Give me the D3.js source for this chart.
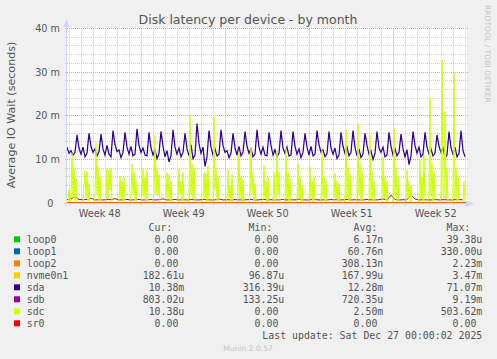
<!DOCTYPE html>
<html>
<head>
<meta charset="utf-8">
<script src="https://cdn.jsdelivr.net/npm/d3@7"></script>
<style>
body{margin:0;background:#f0f0f0;}
svg{display:block;}
</style>
</head>
<body>
<div id="chart"></div>
<script>
// month graph = last 800h, one pixel per 2h
let tStart = Date.UTC(2025, 10, 24, 18, 36);
let tEnd = tStart + 800 * 3600e3;

let names = ["loop0", "loop1", "loop2", "nvme0n1", "sda", "sdb", "sdc", "sr0"];
let colors = ["#00CC00", "#0066B3", "#FF8000", "#FFCC00", "#330099", "#990099", "#CCFF00", "#FF0000"];
let curVals = ["0.00", "0.00", "0.00", "182.61u", "10.38m", "803.02u", "10.38u", "0.00"];
let minVals = ["0.00", "0.00", "0.00", "96.87u", "316.39u", "133.25u", "0.00", "0.00"];
let avgVals = ["6.17n", "60.76n", "308.13n", "167.99u", "12.28m", "720.35u", "2.50m", "0.00"];
let maxVals = ["39.38u", "330.00u", "2.23m", "3.47m", "71.07m", "9.19m", "503.62m", "0.00"];

let yTicks = [0, 10, 20, 30, 40]; // in milliseconds
let yLabels = ["0", "10 m", "20 m", "30 m", "40 m"];

// values in ms
let zeroSeries = [0, 0];

// nvme0n1, one value per day
let nvme = [0.18,0.17,0.17,0.18,0.17,0.16,0.17,0.18,0.17,0.17,0.16,0.17,0.18,0.17,0.17,0.16,0.17,
    0.17,0.18,0.17,0.16,0.17,0.17,0.18,0.17,0.17,0.16,0.17,0.18,0.17,0.17,0.16,0.17,0.18];

// sda, one value per 4h
let sda = [
    12.8,11.4,12.0,11.0,11.6,15.6, 12.6,11.2,12.8,10.6,11.4,16.0, 13.0,11.6,12.4,10.8,11.8,15.8,
    12.4,11.0,13.2,11.2,10.6,16.6, 13.4,11.8,12.2,10.4,11.6,16.2, 12.8,11.2,13.0,10.8,11.2,17.0,
    13.2,11.6,12.6,11.0,10.8,16.2, 12.6,11.0,12.2,10.2,11.4,16.4, 13.0,10.6,12.0,9.4,10.8,16.8,
    12.8,11.2,12.6,10.6,11.6,16.0, 12.4,10.8,13.4,10.2,11.0,18.2, 13.6,11.4,12.8,8.4,10.6,16.6,
    12.8,11.0,12.4,10.8,11.2,16.8, 13.2,11.6,12.0,10.4,11.4,16.0, 12.6,11.0,13.0,10.8,11.6,16.4,
    13.0,11.4,12.4,10.6,11.2,16.8, 12.8,11.2,12.8,11.0,10.8,16.2, 13.2,11.0,12.2,10.6,11.4,16.6,
    12.6,11.4,12.8,10.8,11.0,16.4, 13.0,11.2,12.4,10.4,11.6,16.0, 12.8,11.0,13.0,10.8,11.2,16.6,
    13.4,11.6,12.2,10.6,11.4,16.4, 12.6,11.2,12.6,10.2,11.0,16.2, 13.0,11.4,12.8,10.8,11.6,16.6,
    12.8,10.8,12.4,10.4,11.2,16.0, 13.2,11.2,12.0,10.0,11.4,16.4, 12.6,11.6,12.8,10.6,11.0,16.2,
    13.0,11.0,12.4,10.8,11.6,15.8, 12.4,10.6,12.2,8.8,10.8,16.4, 13.2,11.4,12.8,10.6,11.2,16.2,
    12.8,11.2,12.4,10.8,11.4,15.6, 13.0,11.6,12.6,10.4,11.0,16.4, 12.6,11.2,12.8,10.6,11.4,16.6,
    12.0,10.6
];

// sdb, one value per 8h
let sdb = [
    0.8,0.9,1.5,0.8,0.75,0.8,1.1,0.7,0.75,0.7,0.8,0.75,1.0,0.7,0.72,0.8,0.7,0.75,0.8,0.7,
    0.72,0.78,0.7,0.75,0.95,0.7,0.72,0.8,0.7,0.75,0.7,0.78,0.72,0.7,0.8,0.75,0.7,0.72,0.9,0.7,
    0.75,0.7,0.78,0.72,0.7,0.75,0.8,0.7,0.72,0.85,0.7,0.75,0.7,0.72,0.8,0.7,0.75,0.7,0.9,0.72,
    0.7,0.75,0.8,0.7,0.72,0.7,0.78,0.75,0.7,0.72,0.8,0.7,0.75,0.72,0.7,0.8,0.72,0.7,0.75,0.9,
    0.72,1.8,0.8,0.7,0.75,0.72,1.9,0.9,0.7,0.75,0.72,0.7,0.8,0.7,0.75,0.72,0.7,0.75,0.8,0.72
];

// sdc, one value per 2h (12 per row = one day)
let sdc = [
    0.3,0,3.0,0.2,2.0,11.4,1.2,8.0,0.5,5.5,0,0,
    0,0.2,0,0,0,4.0,7.5,1.0,7.2,0.4,4.5,0,
    0,0,0,0.3,1.5,13.7,2.0,8.2,0.6,6.0,0,0,
    0,0,0.2,0,7.8,1.0,7.5,3.0,8.0,0.4,0,0,
    0,0,0,0,1.0,6.2,1.0,5.0,0.3,6.0,0,0,
    0,0,0.2,0,2.0,9.0,2.0,7.0,0.5,5.0,0,0,
    0,0,0,1.0,8.0,1.5,6.0,0.4,7.5,0,0,0,
    0,0,0.3,2.0,15.5,2.0,8.0,2.0,6.5,0.3,0,0,
    0,0,0,0.5,7.0,1.0,6.5,0.4,5.0,0,0,0,
    0,0,0.2,0,7.8,2.0,5.0,0.3,7.0,0,0,0,
    0,0,1.5,20.1,2.0,9.0,1.0,8.0,0.3,0,0,0,
    0,0,0,0.3,1.0,7.0,1.0,6.8,0.4,8.5,0,0,
    0,0,1.0,19.7,3.0,8.0,0.5,6.0,0,0.2,0,0,
    0,0,0,0.3,1.5,7.5,1.0,4.0,0.3,6.5,0,0,
    0,0,0.2,1.0,11.7,1.0,6.0,0.4,5.5,0,0,0,
    0,0,0,1.5,12.8,2.0,7.0,0.5,4.5,0,0,0,
    0,0,0.2,0,1.0,8.6,1.0,5.0,0.3,6.0,0,0,
    0,0,0.5,7.0,0.5,1.0,12.0,2.0,7.0,0.3,0,0,
    0,0,1.0,12.5,1.0,7.0,0.4,5.5,0,0,0,0,
    0,0,0.5,9.0,1.0,6.0,0.3,4.0,0,0,0,0,
    0,0,0.5,8.2,1.0,5.0,0.3,6.0,0,0.2,0,0,
    0,0,1.0,12.0,1.5,6.0,0.4,5.0,0,0,0,0,
    0,0,0,0.5,6.8,1.0,5.0,0.3,4.5,0,0,0,
    0,0,2.0,16.7,1.0,8.0,0.5,6.5,0,0,0,0,
    0,0,1.5,18.2,2.0,9.0,0.5,7.0,0,0,0,0,
    0,0,1.0,15.5,1.0,7.0,0.4,5.0,0,0,0,0,
    0,0,0,0.5,10.5,1.0,6.0,0.3,5.0,0,0,0,
    0,0,1.0,17.1,1.5,8.0,0.5,6.0,0,0,0,0,
    0,0,0,0.5,7.5,1.0,5.0,0.3,4.0,0,0,0,
    0,0,0,0.3,1.0,9.8,1.0,6.0,0.4,11.0,0,0,
    0,0,2.0,24.0,1.5,9.0,0.5,7.0,0,0,0,0,
    0,0,3.0,32.8,3.0,1.0,20.9,1.0,8.0,0,0,0,
    0,0,2.0,30.0,1.0,8.0,0.5,6.0,0,0,0,0,
    0.3,5.0,0.5,0
];

// [values, hours between points]
let seriesData = [
    [zeroSeries, 798], [zeroSeries, 798], [zeroSeries, 798], [nvme, 24],
    [sda, 4], [sdb, 8], [sdc, 2], [zeroSeries, 798]
];
let widths = [1, 1, 1, 1, 1.25, 1, 1, 1];

let W = 497, H = 359;

let svg = d3.select("#chart").append("svg")
    .attr("width", W)
    .attr("height", H)
    .style("font-family", "'DejaVu Sans', sans-serif");

svg.append("rect").attr("width", W).attr("height", H).attr("fill", "#f0f0f0");

let x = d3.scaleUtc()
    .domain([new Date(tStart), new Date(tEnd)])
    .range([67, 467]);
let y = d3.scaleLinear()
    .domain([0, 40])
    .range([203, 28.5]);

let px = v => Math.floor(v) + 0.5;

// canvas
svg.append("rect")
    .attr("x", 67).attr("y", 28)
    .attr("width", 400).attr("height", 175)
    .attr("fill", "#ffffff");

let grid = svg.append("g");

// horizontal grid, minor every 2m, major every 10m
grid.selectAll(".hg")
    .data(d3.range(2, 41, 2))
    .enter().append("line")
    .attr("x1", 65).attr("x2", 469)
    .attr("y1", d => px(y(d))).attr("y2", d => px(y(d)))
    .attr("stroke", d => d % 10 == 0 ? "#e4a4a4" : "#cfcfcf")
    .attr("stroke-dasharray", "1,1");

// vertical grid, days and mondays
let days = d3.utcDay.range(new Date(tStart), new Date(tEnd));
grid.selectAll(".vg")
    .data(days)
    .enter().append("line")
    .attr("x1", d => px(x(d))).attr("x2", d => px(x(d)))
    .attr("y1", 28.5).attr("y2", 205.5)
    .attr("stroke", d => d.getUTCDay() == 1 ? "#e4a4a4" : "#cfcfcf")
    .attr("stroke-dasharray", "1,1");

// data lines
let line = d3.line()
    .x(d => x(d[0]))
    .y(d => y(d[1]));

seriesData.forEach((s, i) => {
    let pts = s[0].map((v, j) => [new Date(tStart + j * s[1] * 3600e3), v]);
    svg.append("path")
        .datum(pts)
        .attr("d", line)
        .attr("fill", "none")
        .attr("stroke", colors[i])
        .attr("stroke-width", widths[i]);
});

// axes + arrows
let axisColor = "#CFD6F8";
svg.append("line").attr("x1", 64).attr("x2", 470).attr("y1", 203.5).attr("y2", 203.5)
    .attr("stroke", axisColor);
svg.append("line").attr("x1", 66.5).attr("x2", 66.5).attr("y1", 206).attr("y2", 24)
    .attr("stroke", axisColor);
svg.append("path").attr("d", "M466,200.5 L474,203.5 L466,206.5 Z").attr("fill", axisColor);
svg.append("path").attr("d", "M63.5,27 L66.5,19 L69.5,27 Z").attr("fill", axisColor);

// y labels
svg.selectAll(".yl")
    .data(yTicks)
    .enter().append("text")
    .attr("x", (d, i) => i == 0 ? 53.5 : 60)
    .attr("y", d => y(d) + 3.5)
    .attr("text-anchor", "end")
    .attr("font-size", "9.7px")
    .attr("fill", "#555")
    .text((d, i) => yLabels[i]);

// x labels, centred in the week
let mondays = d3.utcMonday.range(d3.utcMonday.floor(new Date(tStart)), new Date(tEnd));
svg.selectAll(".xl")
    .data(mondays)
    .enter().append("text")
    .attr("x", d => x(new Date(+d + 3.5 * 864e5)))
    .attr("y", 216.5)
    .attr("text-anchor", "middle")
    .attr("font-size", "9.7px")
    .attr("fill", "#555")
    .text(d => "Week " + d3.utcFormat("%V")(d));

// title
svg.append("text")
    .attr("x", 248).attr("y", 23.5)
    .attr("text-anchor", "middle")
    .attr("font-size", "12.5px")
    .attr("fill", "#555")
    .text("Disk latency per device - by month");

svg.append("text")
    .attr("transform", "translate(14.5,115) rotate(-90)")
    .attr("text-anchor", "middle")
    .attr("font-size", "11.1px")
    .attr("fill", "#555")
    .text("Average IO Wait (seconds)");

svg.append("text")
    .attr("transform", "translate(484.5,5) rotate(90)")
    .attr("font-size", "7.6px")
    .attr("fill", "#c4c4c4")
    .text("RRDTOOL / TOBI OETIKER");

// legend
let mono = "'DejaVu Sans Mono', monospace";
let legend = svg.append("g")
    .style("font-family", mono)
    .attr("font-size", "9.9px")
    .attr("fill", "#555");

let heads = [["Cur:", 172.3], ["Min:", 272.3], ["Avg:", 377.3], ["Max:", 470.3]];
heads.forEach(h => {
    legend.append("text").attr("x", h[1]).attr("y", 231.3)
        .attr("text-anchor", "end").text(h[0]);
});

let unit = s => /[a-z]$/.test(s) ? s : s + "\u00a0";
let colEnds = [184.3, 284.3, 383.3, 482.3];

names.forEach((n, i) => {
    let by = 243.3 + i * 12;
    legend.append("rect")
        .attr("x", 14).attr("y", by - 7)
        .attr("width", 6).attr("height", 6)
        .attr("fill", colors[i]);
    legend.append("text").attr("x", 26.7).attr("y", by).text(n);
    [curVals, minVals, avgVals, maxVals].forEach((col, c) => {
        legend.append("text")
            .attr("x", colEnds[c]).attr("y", by)
            .attr("text-anchor", "end")
            .text(unit(col[i]));
    });
});

legend.append("text")
    .attr("x", 482.3).attr("y", 339.3)
    .attr("text-anchor", "end")
    .text("Last update: Sat Dec 27 00:00:02 2025");

svg.append("text")
    .attr("x", 248).attr("y", 351)
    .attr("text-anchor", "middle")
    .attr("font-size", "7.6px")
    .attr("fill", "#c4c4c4")
    .text("Munin 2.0.57");
</script>
</body>
</html>
